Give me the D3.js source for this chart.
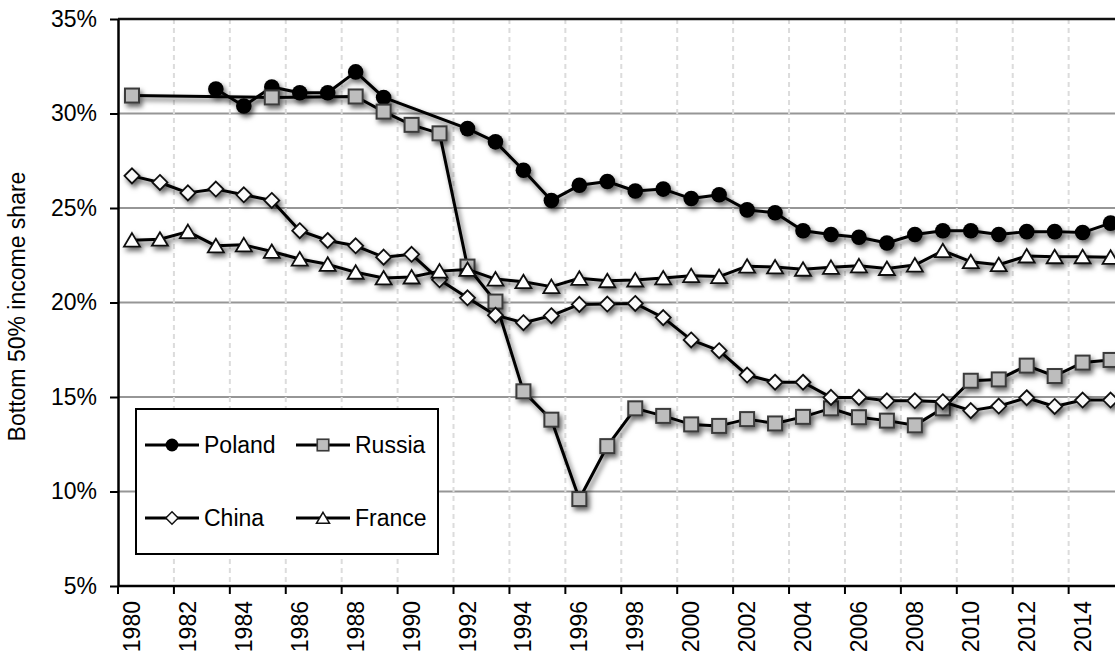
<!DOCTYPE html>
<html>
<head>
<meta charset="utf-8">
<script src="https://cdn.jsdelivr.net/npm/d3@7"></script>
<style>
  body { margin: 0; background: #fff; }
  text { font-family: "Liberation Sans", Arial, sans-serif; fill: #000; }
</style>
</head>
<body>
<div id="chart"></div>
<script>
var years = [1980, 1981, 1982, 1983, 1984, 1985, 1986, 1987, 1988, 1989,
  1990, 1991, 1992, 1993, 1994, 1995, 1996, 1997, 1998, 1999,
  2000, 2001, 2002, 2003, 2004, 2005, 2006, 2007, 2008, 2009,
  2010, 2011, 2012, 2013, 2014, 2015];

// bottom 50% share, % (null = no observation)
var poland = [null, null, null, 31.3, 30.4, 31.4, 31.1, 31.1, 32.2, 30.85,
  null, null, 29.2, 28.5, 27.0, 25.4, 26.2, 26.4, 25.9, 26.0,
  25.5, 25.7, 24.9, 24.75, 23.8, 23.6, 23.45, 23.15, 23.6, 23.8,
  23.8, 23.6, 23.75, 23.75, 23.7, 24.2];
var russia = [30.95, null, null, null, null, 30.85, null, null, 30.9, 30.1,
  29.4, 28.95, 21.9, 20.05, 15.3, 13.8, 9.6, 12.4, 14.4, 14.0,
  13.55, 13.47, 13.83, 13.6, 13.95, 14.4, 13.93, 13.75, 13.5, 14.4,
  15.86, 15.93, 16.66, 16.11, 16.82, 16.96];
var china = [26.7, 26.35, 25.8, 26.0, 25.7, 25.4, 23.8, 23.28, 23.0, 22.4,
  22.55, 21.2, 20.25, 19.33, 18.93, 19.3, 19.9, 19.92, 19.95, 19.2,
  18.02, 17.45, 16.16, 15.78, 15.78, 14.98, 14.98, 14.8, 14.8, 14.75,
  14.28, 14.52, 14.96, 14.5, 14.84, 14.84];
var france = [23.3, 23.35, 23.75, 23.0, 23.05, 22.7, 22.3, 22.02, 21.6, 21.3,
  21.35, 21.66, 21.75, 21.24, 21.1, 20.84, 21.28, 21.15, 21.19, 21.3,
  21.42, 21.37, 21.92, 21.88, 21.76, 21.86, 21.94, 21.8, 21.98, 22.74,
  22.16, 22.0, 22.46, 22.42, 22.42, 22.39];

var yTicks = [5, 10, 15, 20, 25, 30, 35];
var labelYears = [1980, 1982, 1984, 1986, 1988, 1990, 1992, 1994, 1996, 1998,
  2000, 2002, 2004, 2006, 2008, 2010, 2012, 2014];

var width = 1115, height = 654;
var dim = { left: 118, top: 19, bottom: 586, band: 27.96 };

var svg = d3.select("#chart").append("svg")
  .attr("width", width).attr("height", height);

var defs = svg.append("defs");
var f = defs.append("filter").attr("id", "shadow")
  .attr("x", "-20%").attr("y", "-20%").attr("width", "140%").attr("height", "140%");
f.append("feDropShadow").attr("dx", 2.5).attr("dy", 3.5)
  .attr("stdDeviation", 2.5).attr("flood-color", "#000").attr("flood-opacity", 0.6);

var x = d3.scaleBand().domain(years)
  .range([dim.left, dim.left + dim.band * years.length]).padding(0);
var y = d3.scaleLinear().domain([5, 35]).range([dim.bottom, dim.top]);

// horizontal gridlines
svg.append("g").selectAll("line").data(yTicks.slice(1, -1)).enter().append("line")
  .attr("x1", dim.left).attr("x2", width)
  .attr("y1", function(d) { return y(d); }).attr("y2", function(d) { return y(d); })
  .attr("stroke", "#969696").attr("stroke-width", 2);

// vertical dashed gridlines
svg.append("g").selectAll("line").data(labelYears.slice(1)).enter().append("line")
  .attr("x1", function(d) { return x(d); }).attr("x2", function(d) { return x(d); })
  .attr("y1", dim.top).attr("y2", dim.bottom)
  .attr("stroke", "#dcdcdc").attr("stroke-width", 2).attr("stroke-dasharray", "5,4");

// top border
svg.append("line").attr("x1", dim.left).attr("x2", width)
  .attr("y1", y(35)).attr("y2", y(35))
  .attr("stroke", "#111").attr("stroke-width", 2.5);

// y axis
var yAxis = svg.append("g").attr("transform", "translate(" + dim.left + ",0)")
  .call(d3.axisLeft(y).tickValues(yTicks).tickFormat(function(d) { return d + "%"; })
    .tickSize(8).tickSizeOuter(0).tickPadding(13));
yAxis.select(".domain").attr("stroke", "#000").attr("stroke-width", 2.5);
yAxis.selectAll(".tick line").attr("stroke", "#000").attr("stroke-width", 2);
yAxis.selectAll("text").attr("font-size", 23).attr("font-family", "Liberation Sans, Arial, sans-serif").attr("fill", "#000");

// x axis: labels at category centres, tick marks between categories
var xAxis = svg.append("g").attr("transform", "translate(0," + dim.bottom + ")")
  .call(d3.axisBottom(x).tickValues(labelYears).tickSize(0).tickSizeOuter(0));
xAxis.select(".domain").remove();
xAxis.selectAll("text")
  .attr("font-size", 23).attr("font-family", "Liberation Sans, Arial, sans-serif").attr("fill", "#000")
  .attr("transform", "rotate(-90)")
  .attr("x", -15).attr("y", 0).attr("dy", "0.35em")
  .attr("text-anchor", "end");

svg.append("g").selectAll("line").data(labelYears).enter().append("line")
  .attr("x1", function(d) { return x(d); }).attr("x2", function(d) { return x(d); })
  .attr("y1", dim.bottom).attr("y2", dim.bottom + 8)
  .attr("stroke", "#000").attr("stroke-width", 2);
svg.append("line").attr("x1", dim.left).attr("x2", width)
  .attr("y1", dim.bottom).attr("y2", dim.bottom)
  .attr("stroke", "#000").attr("stroke-width", 2.5);

// y title
svg.append("text")
  .attr("transform", "translate(25," + ((dim.top + dim.bottom) / 2 + 4) + ") rotate(-90)")
  .attr("text-anchor", "middle").attr("font-size", 23)
  .text("Bottom 50% income share");

// markers
var markers = {
  circle: function(g) {
    g.append("circle").attr("r", 7.8).attr("fill", "#000");
  },
  square: function(g) {
    g.append("rect").attr("x", -7).attr("y", -7).attr("width", 14).attr("height", 14)
      .attr("fill", "#bdbdbd").attr("stroke", "#3a3a3a").attr("stroke-width", 2);
  },
  diamond: function(g) {
    g.append("path").attr("d", "M0,-7.5L7.5,0L0,7.5L-7.5,0Z")
      .attr("fill", "#fafafa").attr("stroke", "#111").attr("stroke-width", 1.8);
  },
  triangle: function(g) {
    g.append("path").attr("d", "M0,-7L8,6.5L-8,6.5Z")
      .attr("fill", "#fff").attr("stroke", "#111").attr("stroke-width", 1.8);
  }
};

var series = [
  { name: "Poland", values: poland, marker: "circle" },
  { name: "Russia", values: russia, marker: "square" },
  { name: "China", values: china, marker: "diamond" },
  { name: "France", values: france, marker: "triangle" }
];

var line = d3.line()
  .x(function(d) { return x(d.year) + x.bandwidth() / 2; })
  .y(function(d) { return y(d.v); });

series.forEach(function(s) {
  var pts = [];
  s.values.forEach(function(v, i) {
    if (v !== null) pts.push({ year: years[i], v: v });
  });
  var g = svg.append("g").attr("filter", "url(#shadow)");
  g.append("path").datum(pts).attr("d", line)
    .attr("fill", "none").attr("stroke", "#000").attr("stroke-width", 3)
    .attr("stroke-linejoin", "round");
  pts.forEach(function(p) {
    var m = g.append("g").attr("transform",
      "translate(" + (x(p.year) + x.bandwidth() / 2) + "," + y(p.v) + ")");
    markers[s.marker](m);
  });
});

// legend
var legend = svg.append("g");
legend.append("rect").attr("x", 136).attr("y", 409).attr("width", 302).attr("height", 145)
  .attr("fill", "#fff").attr("stroke", "#000").attr("stroke-width", 2);

var legendPos = [
  { x: 145, y: 445 }, { x: 296, y: 445 },
  { x: 145, y: 518 }, { x: 296, y: 518 }
];
series.forEach(function(s, i) {
  var p = legendPos[i];
  var g = legend.append("g").attr("transform", "translate(" + p.x + "," + p.y + ")");
  g.append("line").attr("x1", 0).attr("x2", 54).attr("y1", 0).attr("y2", 0)
    .attr("stroke", "#000").attr("stroke-width", 3);
  var m = g.append("g").attr("transform", "translate(27,0) scale(0.82)");
  markers[s.marker](m);
  g.append("text").attr("x", 59).attr("y", 0).attr("dy", "0.35em")
    .attr("font-size", 23).text(s.name);
});
</script>
</body>
</html>
